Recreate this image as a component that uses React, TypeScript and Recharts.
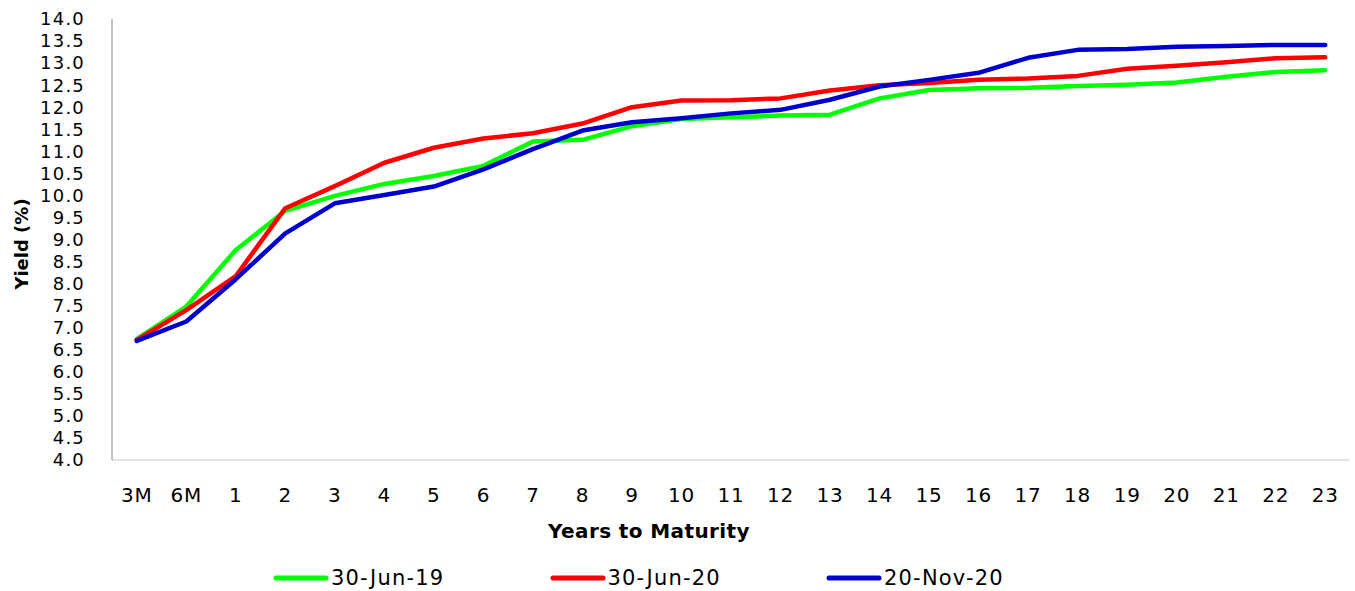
import React from 'react';
import { LineChart, Line, XAxis, YAxis, Legend } from 'recharts';

// yield curve points
const maturities = ['3M', '6M', '1', '2', '3', '4', '5', '6', '7', '8', '9', '10', '11', '12', '13', '14', '15', '16', '17', '18', '19', '20', '21', '22', '23'];

const jun19 = [6.74, 7.48, 8.76, 9.65, 9.99, 10.26, 10.44, 10.67, 11.22, 11.26, 11.57, 11.73, 11.77, 11.81, 11.83, 12.2, 12.39, 12.43, 12.44, 12.48, 12.51, 12.56, 12.69, 12.8, 12.84];
const jun20 = [6.72, 7.4, 8.17, 9.71, 10.21, 10.74, 11.08, 11.29, 11.41, 11.63, 12.0, 12.15, 12.16, 12.2, 12.38, 12.5, 12.55, 12.62, 12.65, 12.71, 12.87, 12.94, 13.02, 13.11, 13.13];
const nov20 = [6.7, 7.14, 8.1, 9.14, 9.82, 10.01, 10.2, 10.59, 11.05, 11.47, 11.66, 11.75, 11.86, 11.94, 12.17, 12.47, 12.62, 12.78, 13.12, 13.3, 13.32, 13.37, 13.39, 13.41, 13.41];

const yTicks = [4, 4.5, 5, 5.5, 6, 6.5, 7, 7.5, 8, 8.5, 9, 9.5, 10, 10.5, 11, 11.5, 12, 12.5, 13, 13.5, 14];

const seriesNames = ['30-Jun-19', '30-Jun-20', '20-Nov-20'];

const FONT = '"DejaVu Sans", Verdana, sans-serif';
const SERIES = [
    { key: 'jun19', name: seriesNames[0], color: '#00FF00' },
    { key: 'jun20', name: seriesNames[1], color: '#FF0000' },
    { key: 'nov20', name: seriesNames[2], color: '#0000CC' },
];

const data = maturities.map((m, i) => ({
    name: m,
    jun19: jun19[i],
    jun20: jun20[i],
    nov20: nov20[i],
}));

const renderLegend = () => (
    <div style={{ position: 'relative', height: 30, width: 1355 }}>
        {SERIES.map((s, i) => (
            <div
                key={s.key}
                style={{ position: 'absolute', left: 272 + i * 276.5, top: 2, height: 30, display: 'flex', alignItems: 'center' }}
            >
                <svg width={58} height={8}>
                    <line x1={4} y1={4} x2={54} y2={4} stroke={s.color} strokeWidth={5} strokeLinecap="round" />
                </svg>
                <span style={{ fontFamily: FONT, fontSize: 21, letterSpacing: 1.2, color: '#000', marginLeft: 1 }}>{s.name}</span>
            </div>
        ))}
    </div>
);

const XTitle = () => (
    <text x={649} y={538} textAnchor="middle" fontFamily={FONT} fontSize={20} fontWeight="bold" letterSpacing={0.4} fill="#000">
        Years to Maturity
    </text>
);

const YTitle = () => (
    <text
        x={21}
        y={244}
        transform="rotate(-90, 21, 244)"
        textAnchor="middle"
        dominantBaseline="central"
        fontFamily={FONT}
        fontSize={18}
        fontWeight="bold"
        fill="#000"
    >
        Yield (%)
    </text>
);

export default function App() {
    return (
        <div style={{ position: 'absolute', left: 0, top: 0, width: 1355, height: 591, background: '#fff' }}>
            <LineChart width={1355} height={591} data={data} margin={{ top: 19, right: 5, bottom: 0, left: 0 }}>
                <XAxis
                    dataKey="name"
                    height={101}
                    padding={{ left: 24.76, right: 24.76 }}
                    tickLine={false}
                    tickSize={0}
                    tickMargin={28}
                    axisLine={{ stroke: '#d9d9d9', strokeWidth: 1.5 }}
                    tick={{ fill: '#000', fontFamily: FONT, fontSize: 20, letterSpacing: 0.8 }}
                    interval={0}
                    label={<XTitle />}
                />
                <YAxis
                    width={112}
                    domain={[4, 14]}
                    ticks={yTicks}
                    interval={0}
                    tickFormatter={(v: number) => v.toFixed(1)}
                    tickLine={false}
                    tickSize={0}
                    tickMargin={27}
                    axisLine={{ stroke: '#999999', strokeWidth: 1.2 }}
                    tick={{ fill: '#000', fontFamily: FONT, fontSize: 18, letterSpacing: 1.2 }}
                    label={<YTitle />}
                />
                <Legend verticalAlign="bottom" content={renderLegend} wrapperStyle={{ left: 0, width: 1355 }} />
                {SERIES.map((s) => (
                    <Line
                        key={s.key}
                        type="linear"
                        dataKey={s.key}
                        name={s.name}
                        stroke={s.color}
                        strokeWidth={4.5}
                        strokeLinecap="round"
                        strokeLinejoin="round"
                        dot={false}
                        activeDot={false}
                        isAnimationActive={false}
                    />
                ))}
            </LineChart>
        </div>
    );
}
